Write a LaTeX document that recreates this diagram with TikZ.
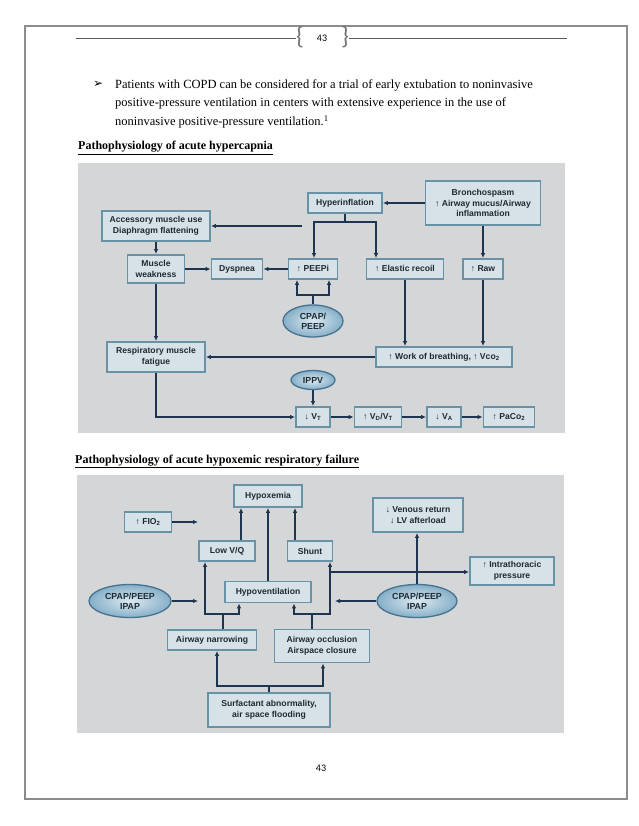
\documentclass[tikz,border=0pt]{standalone}
\usepackage{fontspec}
\setmainfont{Liberation Serif}
\newfontfamily\diagfont{Liberation Sans}
\newfontfamily\hdrfont{Carlito}
\newfontfamily\bulfont{DejaVu Sans}
\usetikzlibrary{arrows.meta,shapes.geometric}
\definecolor{panelgray}{HTML}{D4D6D8}
\definecolor{boxfill}{HTML}{D6E2E7}
\definecolor{boxedge}{HTML}{6893A6}
\definecolor{flowcol}{HTML}{1E3550}
\definecolor{ellin}{HTML}{DCE9F0}
\definecolor{ellout}{HTML}{86AFC8}
\definecolor{elledge}{HTML}{46738F}
\definecolor{inktext}{HTML}{1D2A33}
\definecolor{framegray}{HTML}{8C8C8C}
\begin{document}
\begin{tikzpicture}[x=1pt,y=-1pt,
  pbox/.style={draw=boxedge, line width=1.8pt, fill=boxfill, align=center, inner sep=2pt,
    minimum height=20, text=inktext, font=\diagfont\bfseries\fontsize{8.6}{10.6}\selectfont},
  pell/.style={ellipse, draw=elledge, line width=1.3pt, inner color=ellin, outer color=ellout,
    align=center, inner sep=0pt, text=inktext, font=\diagfont\bfseries\fontsize{8.8}{10.3}\selectfont},
  link/.style={draw=flowcol, line width=1.8pt},
  flow/.style={link, -{Latex[length=5pt,width=4.5pt]}}]
\useasboundingbox (0,0) rectangle (638,826);
\fill[white] (0,0) rectangle (638,826);
% page frame and header
\draw[framegray, line width=1.2pt] (25,26) rectangle (627,799);
\draw[black!65, line width=0.7pt] (76,38) -- (296,38);
\draw[black!65, line width=0.7pt] (349,38) -- (567,38);
\node[text=black!55, font=\hdrfont\fontsize{25}{25}\selectfont] (lbrace) at (300,37) {\{};
\node[text=black!55, font=\hdrfont\fontsize{25}{25}\selectfont] (rbrace) at (345,37) {\}};
\node[font=\hdrfont\fontsize{10}{12}\selectfont] (pagetop) at (322,38) {43};
\node[font=\hdrfont\fontsize{10}{12}\selectfont] (pagebot) at (321,768) {43};
% text above the figures
\node[anchor=base west, inner sep=0pt, font=\bulfont\fontsize{12}{14}\selectfont] (bullet) at (93,88) {➢};
\node[anchor=north west, align=left, inner sep=0pt, font=\fontsize{12.5}{18.5}\selectfont] (bulltext) at (115,79.5)
  {Patients with COPD can be considered for a trial of early extubation to noninvasive\\
   positive-pressure ventilation in centers with extensive experience in the use of\\
   noninvasive positive-pressure ventilation.\textsuperscript{1}};
\node[anchor=base west, inner sep=0pt, font=\bfseries\fontsize{12}{14}\selectfont] (head1) at (78,150)
  {\underline{Pathophysiology of acute hypercapnia}};
\node[anchor=base west, inner sep=0pt, font=\bfseries\fontsize{12}{14}\selectfont] (head2) at (75,463)
  {\underline{Pathophysiology of acute hypoxemic respiratory failure}};
% figure 1: hypercapnia
\fill[panelgray] (78,163) rectangle (565,433);
\node[pbox, minimum width=74] (hyper) at (345,203) {Hyperinflation};
\node[pbox, minimum width=115, minimum height=44] (broncho) at (483,203) {Bronchospasm\\↑ Airway mucus/Airway\\inflammation};
\node[pbox, minimum width=108, minimum height=30] (access) at (156,226) {Accessory muscle use\\Diaphragm flattening};
\node[pbox, minimum width=57, minimum height=28] (weak) at (156,269) {Muscle\\weakness};
\node[pbox, minimum width=51] (dysp) at (237,269) {Dyspnea};
\node[pbox, minimum width=49] (peepi) at (313,269) {↑ PEEPi};
\node[pbox, minimum width=77] (elastic) at (405,269) {↑ Elastic recoil};
\node[pbox, minimum width=40] (raw) at (483,269) {↑ Raw};
\node[pell, minimum width=60, minimum height=32] (cpap) at (313,321) {CPAP/\\PEEP};
\node[pbox, minimum width=98, minimum height=30] (fatigue) at (156,357) {Respiratory muscle\\fatigue};
\node[pbox, minimum width=136] (work) at (444,357) {↑ Work of breathing, ↑ Vco\textsubscript{2}};
\node[pell, minimum width=44, minimum height=19] (ippv) at (313,380) {IPPV};
\node[pbox, minimum width=34] (vt) at (313,417) {↓ V\textsubscript{T}};
\node[pbox, minimum width=47] (vdvt) at (378,417) {↑ V\textsubscript{D}/V\textsubscript{T}};
\node[pbox, minimum width=34] (va) at (444,417) {↓ V\textsubscript{A}};
\node[pbox, minimum width=51] (paco) at (509,417) {↑ PaCo\textsubscript{2}};
\coordinate (hypl) at (314,222);
\coordinate (hypr) at (376,222);
\coordinate (accstart) at (302,226);
\coordinate (cpl) at (297,295);
\coordinate (cpr) at (329,295);
\draw[flow] (broncho) -- (hyper);
\draw[flow] (hyper.south) |- (hypl) -- (hypl |- peepi.north);
\draw[flow] (hyper.south) |- (hypr) -- (hypr |- elastic.north);
\draw[flow] (accstart) -- (access);
\draw[flow] (access) -- (weak);
\draw[flow] (weak) -- (dysp);
\draw[flow] (peepi) -- (dysp);
\draw[flow] (broncho) -- (raw);
\draw[flow] (cpap.north) |- (cpl) -- (cpl |- peepi.south);
\draw[flow] (cpap.north) |- (cpr) -- (cpr |- peepi.south);
\draw[flow] (weak) -- (fatigue);
\draw[flow] (elastic) -- (elastic |- work.north);
\draw[flow] (raw) -- (raw |- work.north);
\draw[flow] (work) -- (fatigue);
\draw[flow] (fatigue) |- (vt);
\draw[flow] (ippv) -- (vt);
\draw[flow] (vt) -- (vdvt);
\draw[flow] (vdvt) -- (va);
\draw[flow] (va) -- (paco);
% figure 2: hypoxemic respiratory failure
\fill[panelgray] (77,475) rectangle (564,733);
\node[pbox, minimum width=68, minimum height=22] (hypox) at (268,496) {Hypoxemia};
\node[pbox, minimum width=47] (fio) at (148,522) {↑ FIO\textsubscript{2}};
\node[pbox, minimum width=56] (lowvq) at (227,551) {Low V/Q};
\node[pbox, minimum width=45] (shunt) at (310,551) {Shunt};
\node[pbox, minimum width=90, minimum height=34] (venous) at (418,515) {↓ Venous return\\↓ LV afterload};
\node[pbox, minimum width=84, minimum height=28] (intra) at (512,571) {↑ Intrathoracic\\pressure};
\node[pbox, minimum width=86, minimum height=21] (hypov) at (268,592) {Hypoventilation};
\node[pell, minimum width=82, minimum height=33] (cpapl) at (130,601) {CPAP/PEEP\\IPAP};
\node[pell, minimum width=80, minimum height=33] (cpapr) at (417,601) {CPAP/PEEP\\IPAP};
\node[pbox, minimum width=89] (narrow) at (212,640) {Airway narrowing};
\node[pbox, minimum width=95, minimum height=33] (occl) at (322,646) {Airway occlusion\\Airspace closure};
\node[pbox, minimum width=122, minimum height=34] (surf) at (269,710) {Surfactant abnormality,\\air space flooding};
\coordinate (fioend) at (198,522);
\coordinate (cpaplend) at (198,601);
\coordinate (cpaprend) at (335,601);
\coordinate (intrastart) at (330,572);
\coordinate (nrl) at (205,614);
\coordinate (nrr) at (239,614);
\coordinate (ocl) at (294,614);
\coordinate (ocr) at (330,614);
\coordinate (sfl) at (217,686);
\coordinate (sfr) at (323,686);
\draw[flow] ([xshift=14pt]lowvq.north) -- ([xshift=14pt]lowvq.north |- hypox.south);
\draw[flow] (hypov) -- (hypox);
\draw[flow] ([xshift=-15pt]shunt.north) -- ([xshift=-15pt]shunt.north |- hypox.south);
\draw[flow] (fio) -- (fioend);
\draw[flow] (cpapl) -- (cpaplend);
\draw[flow] ([xshift=11pt]narrow.north) |- (nrl) -- (nrl |- lowvq.south);
\draw[flow] ([xshift=11pt]narrow.north) |- (nrr) -- (nrr |- hypov.south);
\draw[flow] ([xshift=-10pt]occl.north) |- (ocl) -- (ocl |- hypov.south);
\draw[flow] ([xshift=-10pt]occl.north) |- (ocr) -- (ocr |- shunt.south);
\draw[flow] (surf.north) |- (sfl) -- (sfl |- narrow.south);
\draw[flow] (surf.north) |- (sfr) -- (sfr |- occl.south);
\draw[flow] (intrastart) -- (intrastart -| intra.west);
\draw[flow] (cpapr.north) -- (cpapr.north |- venous.south);
\draw[flow] (cpapr) -- (cpaprend);
\end{tikzpicture}
\end{document}
